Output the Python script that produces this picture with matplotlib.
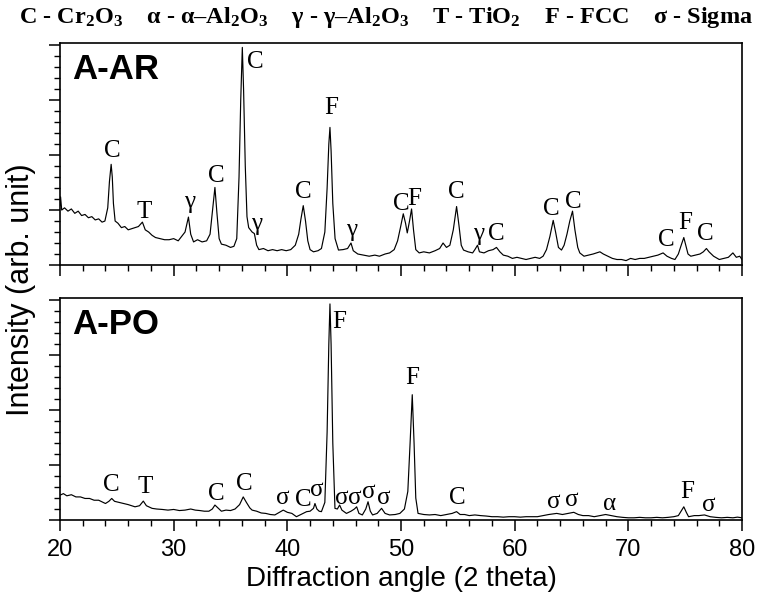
import matplotlib
matplotlib.use("Agg")
import matplotlib.pyplot as plt
from matplotlib.ticker import MultipleLocator, NullFormatter

# ---------------- data ----------------
ar_angle = [20.0, 20.05, 20.15, 20.4, 20.7, 21.0, 21.3, 21.6, 21.9, 22.2, 22.5, 22.8, 23.1, 23.4, 23.7, 23.95,
            24.2, 24.35, 24.5, 24.6, 24.7, 24.85, 25.1, 25.4, 25.7, 26.0, 26.3, 26.6, 26.9, 27.25, 27.5, 27.8,
            28.1, 28.4, 28.8, 29.2, 29.6, 30.0, 30.4, 30.7, 31.0, 31.3, 31.5, 31.75, 32.1, 32.5, 32.9, 33.2,
            33.4, 33.63, 33.8, 34.0, 34.2, 34.6, 35.0, 35.3, 35.55, 35.75, 35.9, 36.04, 36.15, 36.3, 36.45,
            36.6, 36.9, 37.1, 37.3, 37.5, 37.9, 38.3, 38.7, 39.1, 39.5, 39.9, 40.3, 40.7, 41.0, 41.2, 41.4,
            41.6, 41.8, 42.0, 42.3, 42.7, 43.0, 43.3, 43.5, 43.65, 43.75, 43.85, 44.0, 44.2, 44.5, 44.9, 45.3,
            45.6, 45.8, 46.2, 46.7, 47.2, 47.7, 48.1, 48.6, 49.0, 49.4, 49.7, 49.95, 50.2, 50.4, 50.55, 50.75,
            50.93, 51.1, 51.3, 51.6, 52.0, 52.5, 53.0, 53.4, 53.7, 54.0, 54.3, 54.6, 54.89, 55.1, 55.3, 55.5,
            55.9, 56.3, 56.5, 56.73, 56.9, 57.3, 57.7, 58.1, 58.4, 58.7, 59.0, 59.4, 59.8, 60.2, 60.6, 61.0,
            61.4, 61.8, 62.2, 62.5, 62.8, 63.1, 63.39, 63.6, 63.85, 64.12, 64.35, 64.6, 64.85, 65.09, 65.3,
            65.55, 65.73, 66.1, 66.5, 66.9, 67.2, 67.5, 67.8, 68.2, 68.6, 69.0, 69.4, 69.8, 70.2, 70.6, 71.0,
            71.4, 71.8, 72.2, 72.6, 73.06, 73.4, 73.8, 74.1, 74.4, 74.65, 74.88, 75.05, 75.25, 75.5, 75.9,
            76.3, 76.6, 76.87, 77.1, 77.5, 78.0, 78.4, 78.8, 79.2, 79.5, 79.8, 80.0]
ar_intensity = [27, 31, 25, 26, 24.5, 25.5, 23.5, 24.5, 22.5, 23, 21.5, 22, 20.5, 21, 19.5, 20,
                26, 38, 45.8, 40, 28, 20, 19, 17, 17.5, 16, 16.5, 17, 17.5, 19.5, 16, 15,
                13.5, 12.5, 12, 11.5, 11.5, 12, 11, 13, 15, 21.8, 14, 10.5, 11.5, 10.5, 11, 14,
                24, 35.3, 24, 12, 9.5, 9, 8, 8.5, 12, 40, 75, 99, 80, 45, 22,
                17, 15, 14.3, 9, 7, 7.5, 6.5, 7, 6.5, 7, 6.5, 7, 9, 14, 21, 27,
                20, 11, 7, 6, 6.5, 7.5, 15, 35, 55, 62.6, 52, 28, 12, 6.8, 7, 7.5,
                10, 6.5, 5, 4.5, 4, 4.5, 4, 5, 5.5, 7, 11, 17, 23.3, 19, 14.6, 20,
                25.5, 16, 7, 5.5, 6, 5.5, 6.5, 7.5, 10, 8, 9, 16, 26.6, 18, 9, 6.8,
                6, 5.5, 7, 9, 6, 5.5, 6.5, 7, 8, 6, 4.5, 4, 3, 3.5, 3, 2.5,
                3, 3.5, 3, 4, 7, 13, 20.3, 15, 8, 6.8, 9, 14, 20, 24.5, 16,
                8, 5.5, 4, 4.5, 5, 5.5, 6, 5, 4, 3, 2.5, 2.5, 2, 3, 2.5, 3,
                3, 3.5, 4, 4.5, 5.5, 4, 3, 2.5, 5, 9, 12.5, 9, 5, 4, 4.5,
                5, 6, 7.5, 6, 4, 2.5, 3, 3.5, 5.5, 3.5, 4, 2.5]

po_angle = [20.0, 20.3, 20.6, 21.0, 21.4, 21.8, 22.2, 22.6, 23.0, 23.4, 23.8, 24.0, 24.3, 24.55, 24.8, 25.2,
            25.6, 26.0, 26.3, 26.6, 27.0, 27.33, 27.6, 28.1, 28.5, 29.0, 29.5, 30.0, 30.5, 31.0, 31.5, 31.9,
            32.3, 32.7, 33.1, 33.4, 33.63, 33.9, 34.2, 34.6, 35.0, 35.4, 35.8, 36.12, 36.4, 36.7, 36.9, 37.3,
            37.7, 38.1, 38.5, 38.9, 39.3, 39.64, 40.0, 40.4, 40.8, 41.2, 41.7, 42.0, 42.3, 42.43, 42.6, 42.8,
            43.0, 43.3, 43.5, 43.65, 43.75, 43.85, 44.0, 44.19, 44.4, 44.6, 44.8, 45.2, 45.6, 45.9, 46.1, 46.3,
            46.6, 46.9, 47.1, 47.3, 47.5, 47.9, 48.29, 48.6, 49.0, 49.5, 49.9, 50.3, 50.6, 50.8, 50.99, 51.15,
            51.3, 51.5, 52.0, 52.5, 53.0, 53.5, 54.0, 54.5, 54.89, 55.2, 55.6, 56.0, 56.5, 57.0, 57.5, 58.0,
            58.5, 59.0, 59.5, 60.0, 60.5, 61.0, 61.5, 62.0, 62.5, 63.0, 63.7, 64.2, 64.7, 65.2, 65.6, 66.0,
            66.5, 67.0, 67.5, 68.0, 68.5, 69.0, 69.5, 70.0, 70.5, 71.0, 71.5, 72.0, 72.5, 73.0, 73.5, 74.0,
            74.4, 74.7, 74.88, 75.1, 75.3, 75.8, 76.2, 76.7, 77.2, 77.7, 78.2, 78.7, 79.2, 79.6, 80.0]
po_intensity = [11.3, 12, 11, 11.5, 10.5, 10.5, 9.8, 9.8, 9, 9, 8, 7.5, 8.5, 9.8, 8.5, 8,
                7.5, 7, 6.5, 6, 6.5, 8.6, 6.5, 5.3, 5, 4.8, 4.5, 4.8, 4.3, 4.5, 5, 4.5,
                4.3, 4, 4, 5, 6.8, 5.5, 4, 4.5, 4.3, 5, 7, 10.5, 8, 5.5, 4.5, 4,
                3.2, 3, 2.5, 2.3, 3.5, 4.5, 3.5, 3, 1.5, 2.5, 3.8, 4, 5.3, 7.5, 5, 4,
                3.8, 8, 40, 80, 98.3, 80, 35, 5.3, 5, 6.8, 4.5, 3, 4, 5, 6, 3,
                2.3, 5, 8.3, 4, 2.3, 3, 5.3, 3, 2.3, 2.5, 3, 5, 13, 35, 57, 35,
                10, 3, 2.5, 2.3, 2.5, 2, 2.5, 3, 3.8, 2.5, 2.5, 2, 2.3, 2, 1.8, 1.5,
                1.5, 1.3, 1.5, 1.5, 1.3, 1.5, 1.5, 1.5, 2, 2.5, 3, 2.5, 3, 3.5, 2.5, 2,
                2, 1.5, 2, 2.5, 2, 1.5, 1.2, 1, 1, 1.2, 1, 1, 1.2, 1, 1.2, 1.5,
                2, 4.5, 6, 3.5, 1.5, 2, 2, 2.3, 1.5, 1.2, 1, 1.2, 1, 1.3, 1]

# phase labels: (text, angle, intensity)
ar_label_text = ["C", "T", "γ", "C", "C", "γ", "C", "F", "γ", "C", "F", "C", "γ", "C", "C", "C", "C", "F", "C"]
ar_label_x = [24.63, 27.42, 31.37, 33.78, 37.15, 37.3, 41.4, 43.84, 45.65, 49.99, 51.2, 54.83, 56.8, 58.35,
              63.24, 65.15, 73.35, 74.97, 76.8]
ar_label_y = [51.8, 24, 28.5, 40.5, 92.3, 18.8, 33, 71.3, 15.8, 27.8, 30, 33.3, 14, 14,
              25.5, 28.8, 11.6, 19, 14]

po_label_text = ["C", "T", "C", "C", "σ", "C", "σ", "F", "σ", "σ", "σ", "σ", "F", "C", "σ", "σ", "α", "F", "σ"]
po_label_x = [24.55, 27.48, 33.78, 36.18, 39.64, 41.4, 42.57, 44.6, 44.77, 45.94, 47.2, 48.44, 50.99, 54.97,
              63.45, 65.0, 68.37, 75.17, 77.1]
po_label_y = [15.8, 15, 11.7, 16.5, 9.8, 9, 13.5, 90, 9.8, 9.8, 12.7, 9.8, 64.5, 9.8,
              8.3, 9.3, 7.5, 12.8, 6.8]

panel_names = ["A-AR", "A-PO"]
x_ticks = [20, 30, 40, 50, 60, 70, 80]
legend_text = (r"C - Cr$_\mathbf{2}$O$_\mathbf{3}$    α - α–Al$_\mathbf{2}$O$_\mathbf{3}$    "
               r"γ - γ–Al$_\mathbf{2}$O$_\mathbf{3}$    T - TiO$_\mathbf{2}$    F - FCC    σ - Sigma")

# ---------------- figure ----------------
plt.rcParams["mathtext.fontset"] = "custom"
plt.rcParams["mathtext.rm"] = "Liberation Serif"
plt.rcParams["mathtext.bf"] = "Liberation Serif:bold"
plt.rcParams["mathtext.it"] = "Liberation Serif:italic"

fig = plt.figure(figsize=(7.6, 5.97), dpi=100)
L, R = 60 / 760, 742 / 760
ax1 = fig.add_axes([L, 1 - 265 / 597, R - L, 222 / 597])
ax2 = fig.add_axes([L, 1 - 520 / 597, R - L, 222 / 597])

serif = ["Liberation Serif", "DejaVu Serif"]
sans = ["Liberation Sans", "DejaVu Sans"]

for ax, xs, ys, name, lt, lx, ly in [
        (ax1, ar_angle, ar_intensity, panel_names[0], ar_label_text, ar_label_x, ar_label_y),
        (ax2, po_angle, po_intensity, panel_names[1], po_label_text, po_label_x, po_label_y)]:
    ax.plot(xs, ys, color="black", lw=0.85)
    ax.set_xlim(20, 80)
    ax.set_ylim(0, 101)
    ax.xaxis.set_major_locator(MultipleLocator(10))
    ax.xaxis.set_minor_locator(MultipleLocator(2))
    ax.yaxis.set_major_locator(MultipleLocator(25))
    ax.yaxis.set_minor_locator(MultipleLocator(5))
    ax.yaxis.set_major_formatter(NullFormatter())
    ax.tick_params(axis="both", which="major", direction="out", length=8, width=1.1, pad=6)
    ax.tick_params(axis="both", which="minor", direction="out", length=4, width=1.0)
    ax.tick_params(top=False, right=False)
    for s in ax.spines.values():
        s.set_linewidth(1.2)
    ax.text(0.018, 0.88, name, transform=ax.transAxes, family=sans, fontweight="bold",
            fontsize=25, va="center", ha="left")
    for t, x, y in zip(lt, lx, ly):
        ax.text(x, y, t, family=serif, fontsize=18, ha="center", va="center")

ax1.xaxis.set_major_formatter(NullFormatter())
ax2.set_xticks(x_ticks)
ax2.set_xticklabels([str(v) for v in x_ticks], family=sans, fontsize=17)
ax2.set_xlabel("Diffraction angle (2 theta)", family=sans, fontsize=20, labelpad=3)

fig.text(0.028, 1 - 290 / 597, "Intensity (arb. unit)", rotation=90, family=sans, fontsize=22,
         ha="center", va="center")
fig.text(0.5 + 6 / 760, 1 - 18 / 597, legend_text, family=serif, fontweight="bold", fontsize=17.5,
         ha="center", va="center")

fig.savefig("out.png", dpi=100)
